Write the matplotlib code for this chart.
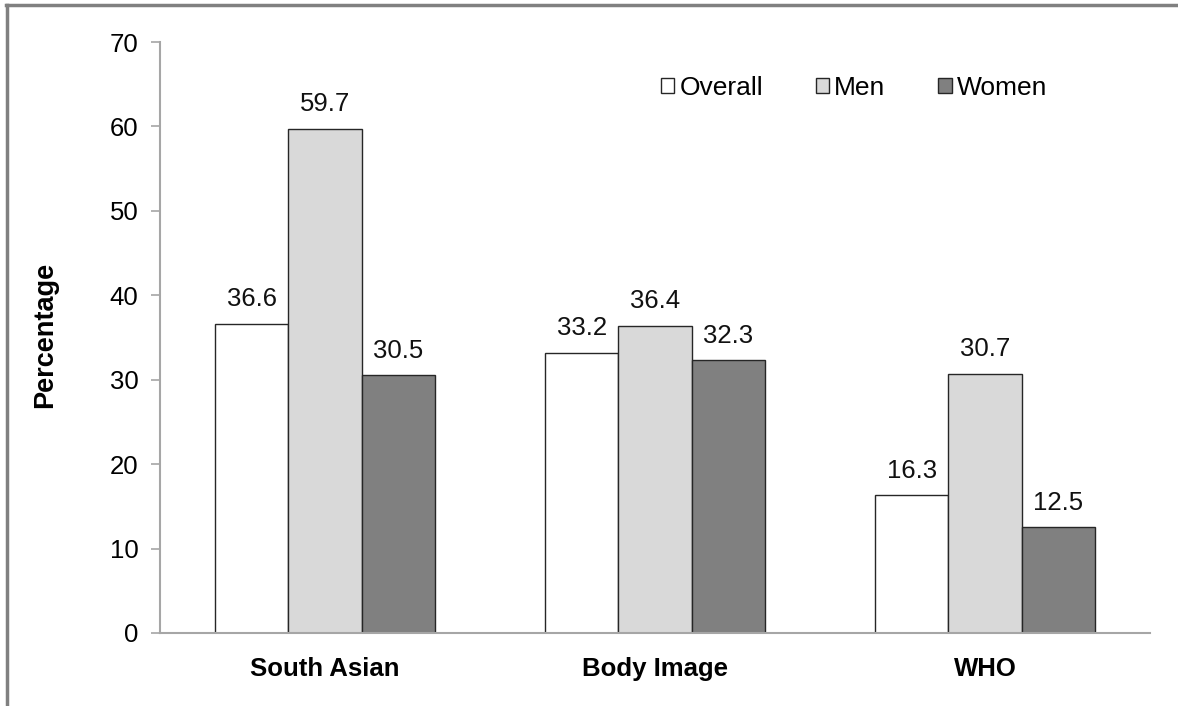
import matplotlib
matplotlib.use("Agg")
import matplotlib.pyplot as plt
import numpy as np
from matplotlib.patches import Patch
from matplotlib.lines import Line2D

plt.rcParams['font.family'] = ['Liberation Sans', 'DejaVu Sans']

categories = ["South Asian", "Body Image", "WHO"]
series_names = ["Overall", "Men", "Women"]
overall = [36.6, 33.2, 16.3]
men = [59.7, 36.4, 30.7]
women = [30.5, 32.3, 12.5]
y_ticks = [0, 10, 20, 30, 40, 50, 60, 70]

colors = ["#ffffff", "#d9d9d9", "#808080"]
axis_gray = "#a6a6a6"
fs = 18.5

W, H = 1178, 706
fig = plt.figure(figsize=(W / 100, H / 100), dpi=100)
ax = fig.add_axes([160 / W, 1 - 633 / H, 990 / W, 591 / H])

x = np.arange(len(categories))
w = 1 / 4.5
for i, (vals, col) in enumerate(zip([overall, men, women], colors)):
    pos = x + (i - 1) * w
    ax.bar(pos, vals, width=w, color=col, edgecolor="#262626",
           linewidth=1.0, zorder=2, label=series_names[i])
    for p, v in zip(pos, vals):
        ax.text(p, v + 2.1, f"{v:.1f}", ha="center", va="baseline", fontsize=fs,
                color="#111111")

ax.set_xlim(-0.5, 2.5)
ax.set_ylim(0, 70)
ax.set_yticks(y_ticks)
ax.set_yticklabels([str(t) for t in y_ticks], fontsize=fs)
ax.set_xticks(x)
ax.set_xticklabels(categories, fontsize=fs, fontweight="bold")
ax.tick_params(axis="x", length=0, pad=17)
ax.tick_params(axis="y", length=6.5, width=1.2, color=axis_gray, pad=9)
for s in ["top", "right"]:
    ax.spines[s].set_visible(False)
for s in ["left", "bottom"]:
    ax.spines[s].set_color(axis_gray)
    ax.spines[s].set_linewidth(1.5)
ax.spines["bottom"].set_zorder(3)

fig.text(45 / W, 1 - 335 / H, "Percentage", rotation=90, ha="center",
         va="center", fontsize=19.5, fontweight="bold")

handles = [Patch(facecolor=c, edgecolor="#262626", linewidth=1.0) for c in colors]
ax.legend(handles, series_names, loc="center left",
          bbox_to_anchor=(661 / W, 1 - 88 / H), bbox_transform=fig.transFigure,
          ncol=3, frameon=False, fontsize=19, handlelength=0.5, handleheight=0.5,
          handletextpad=0.2, columnspacing=2.0, borderpad=0, borderaxespad=0)

# outer frame lines
fig.add_artist(Line2D([6 / W, 1], [1 - 5 / H, 1 - 5 / H], color="#808080",
                      linewidth=2.5, transform=fig.transFigure))
fig.add_artist(Line2D([7 / W, 7 / W], [0, 1 - 5 / H], color="#808080",
                      linewidth=2.5, transform=fig.transFigure))

fig.savefig("out.png", dpi=100)
